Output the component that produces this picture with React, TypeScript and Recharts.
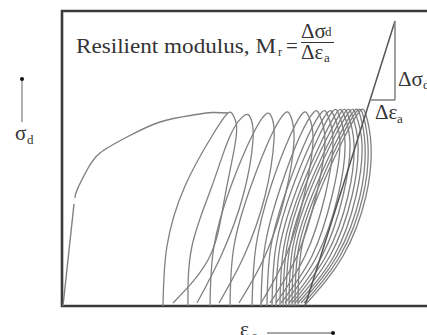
import { ComposedChart, Line, XAxis, YAxis, ReferenceArea, ReferenceLine } from "recharts";

// strain (εa) and deviator stress (σd), arbitrary units
const virginLower = [
  { x: 1, y: 0 },
  { x: 12, y: 102 },
];
const virginUpper = [
  { x: 13, y: 108 },
  { x: 15, y: 116 },
  { x: 25, y: 136 },
  { x: 38, y: 153 },
  { x: 65, y: 169 },
  { x: 98, y: 184 },
  { x: 131, y: 191 },
  { x: 150, y: 193.5 },
  { x: 166, y: 193 },
];

// one value per load cycle
const loopFootX = [101, 126, 148, 168, 190, 199, 205, 210, 214, 218, 221, 224, 227, 230, 233, 236];
const loopLeftLowX = [105, 130, 152, 172, 194, 203, 209, 214, 218, 222, 225, 228, 231, 234, 237, 240];
const loopLeftMidX = [123, 150, 169, 189, 209, 219, 226, 231, 236, 240, 243, 247, 250, 254, 257, 260];
const loopLeftHighX = [150, 168, 190, 209, 228, 238, 246, 252, 257, 262, 266, 270, 273, 277, 280, 283];
const loopTopX = [166, 183, 204, 223, 241, 252, 260, 266, 271, 276, 280, 284, 288, 292, 295, 298];
const loopTopY = [193, 191, 192, 193, 193, 194, 194, 194, 195, 195, 195, 195, 195, 195, 195, 195];
const loopCrestX = [172, 189, 210, 229, 247, 258, 266, 272, 277, 282, 286, 290, 294, 298, 301, 304];
const loopCrestY = [189, 187, 188, 189, 189, 190, 190, 190, 191, 191, 191, 191, 191, 191, 191, 191];
const loopBulgeX = [174, 191, 212, 232, 251, 263, 271, 278, 283, 288, 292, 296, 300, 303, 306, 309];
const loopBulgeY = [168, 166, 166, 165, 165, 164, 164, 163, 163, 163, 162, 162, 162, 161, 161, 161];
const loopRightMidX = [163, 181, 203, 223, 242, 254, 263, 270, 276, 281, 286, 290, 294, 298, 301, 304];
const loopRightLowX = [148, 159, 182, 203, 224, 235, 243, 250, 255, 260, 264, 268, 272, 275, 278, 281];
const loopEndX = [111, 135, 157, 177, 199, 208, 214, 219, 223, 227, 230, 233, 236, 239, 242, 245];

// stress levels of the branch points (unloading leg, reloading leg)
const unloadLevels = [0, 60, 120, 170];
const reloadLevels = [110, 50, 3];

// resilient modulus triangle
const slopeLine = [
  { x: 243, y: 0 },
  { x: 333, y: 285 },
];
const strainLeg = [
  { x: 308, y: 206 },
  { x: 333, y: 206 },
];
const stressLeg = [
  { x: 333, y: 206 },
  { x: 333, y: 285 },
];

const loops = loopFootX.map((foot, i) => [
  { x: foot, y: unloadLevels[0] },
  { x: loopLeftLowX[i], y: unloadLevels[1] },
  { x: loopLeftMidX[i], y: unloadLevels[2] },
  { x: loopLeftHighX[i], y: unloadLevels[3] },
  { x: loopTopX[i], y: loopTopY[i] },
  { x: loopCrestX[i], y: loopCrestY[i] },
  { x: loopBulgeX[i], y: loopBulgeY[i] },
  { x: loopRightMidX[i], y: reloadLevels[0] },
  { x: loopRightLowX[i], y: reloadLevels[1] },
  { x: loopEndX[i], y: reloadLevels[2] },
]);

const serif = "'Liberation Serif', 'Times New Roman', serif";
const ink = "#333";
const curve = "#808080";

function T({ x, y, size, children, len }: { x: number; y: number; size: number; children: string; len?: number }) {
  return (
    <text
      x={x}
      y={y}
      fill={ink}
      style={{ fontFamily: serif, fontSize: size }}
      textLength={len}
      lengthAdjust={len ? "spacingAndGlyphs" : undefined}
    >
      {children}
    </text>
  );
}

export default function App() {
  return (
    <div
      style={{
        position: "absolute",
        left: 0,
        top: 0,
        width: 427,
        height: 335,
        overflow: "hidden",
        background: "#fff",
      }}
    >
      <ComposedChart width={432} height={335} margin={{ top: 11, right: 0, bottom: 29, left: 62 }}>
        <XAxis type="number" dataKey="x" domain={[0, 370]} hide allowDataOverflow />
        <YAxis type="number" domain={[0, 295]} hide allowDataOverflow />
        <Line
          data={virginLower}
          dataKey="y"
          type="linear"
          stroke={curve}
          strokeWidth={1.4}
          dot={false}
          activeDot={false}
          isAnimationActive={false}
        />
        <Line
          data={virginUpper}
          dataKey="y"
          type="natural"
          stroke={curve}
          strokeWidth={1.4}
          dot={false}
          activeDot={false}
          isAnimationActive={false}
        />
        {loops.map((pts, i) => (
          <Line
            key={i}
            data={pts}
            dataKey="y"
            type="natural"
            stroke={curve}
            strokeWidth={1.3}
            dot={false}
            activeDot={false}
            isAnimationActive={false}
          />
        ))}
        <ReferenceLine segment={slopeLine} stroke="#555" strokeWidth={1.5} />
        <ReferenceLine segment={strainLeg} stroke="#888" strokeWidth={1.6} />
        <ReferenceLine segment={stressLeg} stroke="#888" strokeWidth={1.6} />
        <ReferenceArea x1={0} x2={370} y1={0} y2={295} fill="none" stroke="#3a3a3a" strokeWidth={2.6} />
      </ComposedChart>
      <svg
        width={427}
        height={335}
        style={{ position: "absolute", left: 0, top: 0, pointerEvents: "none" }}
      >
        <T x={76} y={53} size={21} len={200}>Resilient modulus, M</T>
        <T x={278} y={56} size={12}>r</T>
        <T x={286} y={53} size={21}>=</T>
        <T x={301} y={38} size={21}>Δσ</T>
        <T x={325} y={36} size={13}>d</T>
        <line x1={301} x2={334} y1={42.5} y2={42.5} stroke={ink} strokeWidth={1} />
        <T x={301} y={59} size={21}>Δε</T>
        <T x={324} y={62} size={13}>a</T>

        <T x={398} y={86} size={21}>Δσ</T>
        <T x={423} y={89} size={13}>d</T>
        <T x={375} y={119} size={21}>Δε</T>
        <T x={397} y={123} size={13}>a</T>

        <line x1={22} x2={22} y1={80} y2={122} stroke="#888" strokeWidth={1.3} />
        <circle cx={22} cy={79} r={2} fill="#111" />
        <T x={15} y={140} size={21}>σ</T>
        <T x={27} y={144} size={13}>d</T>

        <T x={240} y={336} size={21}>ε</T>
        <T x={252} y={340} size={13}>a</T>
        <line x1={267} x2={332} y1={333} y2={333} stroke="#888" strokeWidth={1.3} />
        <circle cx={333} cy={333} r={2} fill="#111" />
      </svg>
    </div>
  );
}
